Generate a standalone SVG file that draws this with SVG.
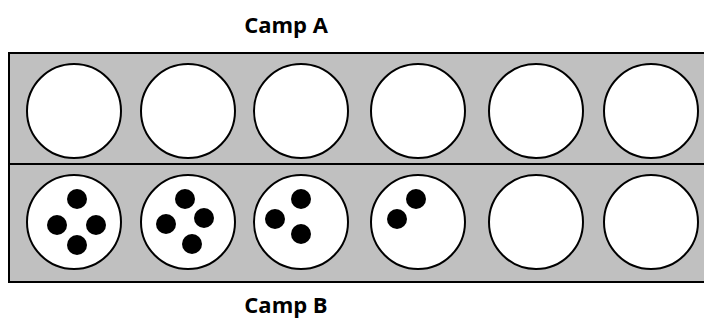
<svg xmlns="http://www.w3.org/2000/svg" width="704" height="320" viewBox="0 0 704 320">
<style>
.board{fill:#c0c0c0;stroke:#000;stroke-width:2}
.pit{fill:#fff;stroke:#000;stroke-width:2}
.seed{fill:#000}
.lbl{font-family:"Open Sans","Liberation Sans",sans-serif;font-weight:bold;font-size:22px;fill:#000;text-anchor:middle}
</style>
<rect width="704" height="320" fill="#fff"/>
<g id="board">
<rect class="board" x="9" y="53" width="700" height="229"/>
<line x1="9" y1="164" x2="704" y2="164" stroke="#000" stroke-width="2"/>
</g>
<g id="campA">
<circle class="pit" cx="74" cy="111" r="47"/>
<circle class="pit" cx="188" cy="111" r="47"/>
<circle class="pit" cx="301" cy="111" r="47"/>
<circle class="pit" cx="418" cy="111" r="47"/>
<circle class="pit" cx="536" cy="111" r="47"/>
<circle class="pit" cx="651" cy="111" r="47"/>
</g>
<g id="campB">
<g id="pitB1"><circle class="pit" cx="74" cy="222" r="47"/>
<circle class="seed" cx="77" cy="199" r="10"/><circle class="seed" cx="57" cy="225" r="10"/><circle class="seed" cx="96" cy="225" r="10"/><circle class="seed" cx="77" cy="245" r="10"/></g>
<g id="pitB2"><circle class="pit" cx="188" cy="222" r="47"/>
<circle class="seed" cx="185" cy="199" r="10"/><circle class="seed" cx="166" cy="224" r="10"/><circle class="seed" cx="204" cy="218" r="10"/><circle class="seed" cx="192" cy="244" r="10"/></g>
<g id="pitB3"><circle class="pit" cx="301" cy="222" r="47"/>
<circle class="seed" cx="301" cy="199" r="10"/><circle class="seed" cx="275" cy="219" r="10"/><circle class="seed" cx="301" cy="234" r="10"/></g>
<g id="pitB4"><circle class="pit" cx="418" cy="222" r="47"/>
<circle class="seed" cx="416" cy="199" r="10"/><circle class="seed" cx="397" cy="219" r="10"/></g>
<g id="pitB5"><circle class="pit" cx="536" cy="222" r="47"/></g>
<g id="pitB6"><circle class="pit" cx="651" cy="222" r="47"/></g>
</g>
<g id="connectors"/>
<text class="lbl" x="286" y="33">Camp A</text>
<text class="lbl" x="286" y="313">Camp B</text>
</svg>
